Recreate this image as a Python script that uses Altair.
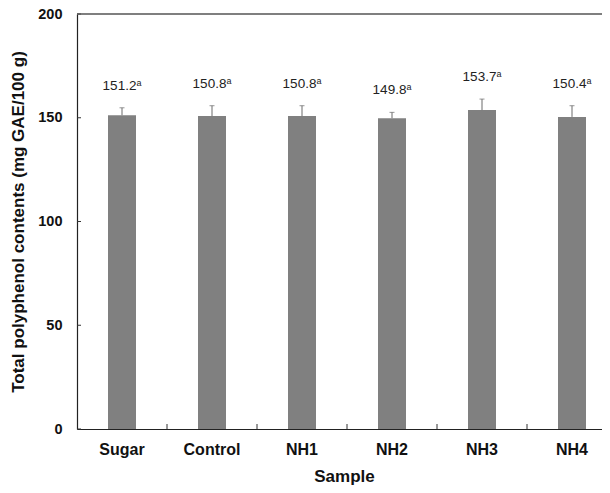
import altair as alt
import pandas as pd

samples = ["Sugar", "Control", "NH1", "NH2", "NH3", "NH4"]
means = [151.2, 150.8, 150.8, 149.8, 153.7, 150.4]
sds = [3.6, 5.0, 5.0, 2.8, 5.3, 5.4]
letters = ["a", "a", "a", "a", "a", "a"]
y_ticks = [0, 50, 100, 150, 200]

df = pd.DataFrame({"sample": samples, "mean": means, "sd": sds, "letter": letters})
df["upper"] = df["mean"] + df["sd"]
df["label"] = df["mean"].map(lambda v: f"{v:.1f}")

FONT = "Liberation Sans"
W, H = 525, 415
RANGE_W = 540
BAR = "#808080"
ERR = "#6a6a6a"

xscale = alt.Scale(domain=samples, range=[0, RANGE_W], paddingInner=0, paddingOuter=0)
xaxis = alt.Axis(title="Sample", labelAngle=0, ticks=False, labelPadding=12,
                 titlePadding=11, labelFontSize=16, titleFontSize=17,
                 titleX=267)
yscale = alt.Scale(domain=[0, 200], nice=False, zero=True)
yaxis = alt.Axis(title="Total polyphenol contents (mg GAE/100 g)", values=y_ticks,
                 ticks=False, grid=False, labelPadding=15, titlePadding=10,
                 labelFontSize=14.5, titleFontSize=17)


def X(field="sample:N", **kw):
    return alt.X(field, sort=samples, scale=xscale, axis=xaxis, **kw)


def Y(field):
    return alt.Y(field, scale=yscale, axis=yaxis)


base = alt.Chart(df)

bars = base.mark_bar(size=28, color=BAR).encode(x=X(), y=Y("mean:Q"))
err = base.mark_rule(color=ERR, strokeWidth=1).encode(x=X(), y=Y("mean:Q"), y2="upper:Q")
cap = base.mark_tick(color=ERR, size=5, thickness=1, orient="horizontal").encode(
    x=X(), y=Y("upper:Q"))
num = base.mark_text(font=FONT, fontSize=13.5, dx=-2.5, dy=-22, baseline="middle",
                     color="#222222").encode(x=X(), y=Y("upper:Q"), text="label:N")
sup = base.mark_text(font=FONT, fontSize=9, align="left", dx=14.5, dy=-25,
                     baseline="middle", color="#222222").encode(
    x=X(), y=Y("upper:Q"), text="letter:N")

xt = alt.Chart(pd.DataFrame({"sample": samples[1:]})).mark_rule(color="#333333").encode(
    x=X(bandPosition=0), y=alt.value(H), y2=alt.value(H - 5))
yt = alt.Chart(pd.DataFrame({"v": y_ticks})).mark_rule(color="#333333").encode(
    y=Y("v:Q"), x=alt.value(0), x2=alt.value(4))
top = alt.Chart(pd.DataFrame({"k": [0]})).mark_rule(color="#555555", strokeWidth=1.5).encode(
    x=alt.value(0), x2=alt.value(RANGE_W), y=alt.value(0))

chart = alt.layer(bars, err, cap, num, sup, xt, yt, top).properties(
    width=W, height=H,
    autosize=alt.AutoSizeParams(type="none"),
    padding={"left": 69, "top": 6, "right": 0, "bottom": 56},
).configure_view(stroke=None).configure_axis(
    domainColor="#222222", domainWidth=1.2,
    labelFont=FONT, labelFontWeight="bold", labelColor="#111111",
    titleFont=FONT, titleFontWeight="bold", titleColor="#111111",
)

chart.save("out.html", embed_options={"renderer": "svg", "actions": False})
